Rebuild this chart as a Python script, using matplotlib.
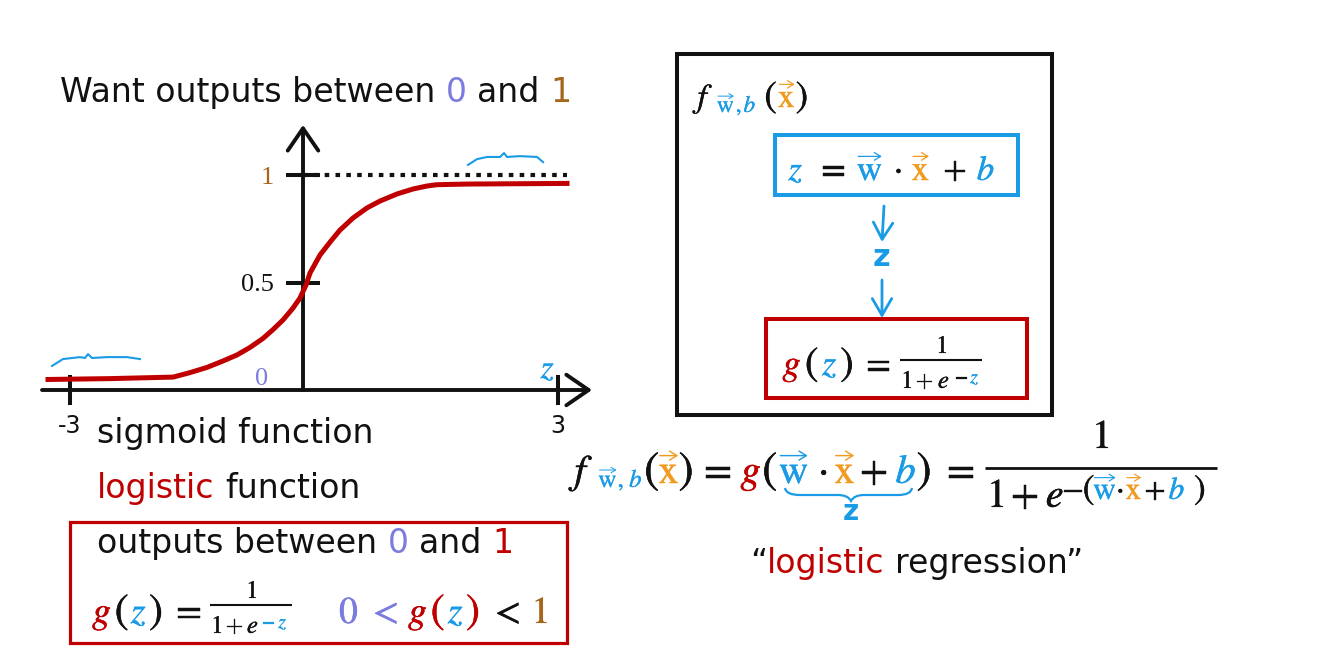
import matplotlib
matplotlib.use("Agg")
import matplotlib.pyplot as plt
import matplotlib.patheffects as pe
import numpy as np
from matplotlib.patches import Rectangle, PathPatch
from matplotlib.path import Path

W, H = 1324, 658

# sigmoid as drawn on the slide
z_curve = [-3.282, -2.484, -1.673, -1.454, -1.236, -1.030, -0.850, -0.682,
           -0.515, -0.386, -0.257, -0.129, -0.039, 0.035, 0.082, 0.200, 0.318,
           0.435, 0.588, 0.753, 0.906, 1.106, 1.294, 1.459, 1.576, 1.929, 3.106]
g_curve = [0.049, 0.053, 0.060, 0.081, 0.105, 0.135, 0.163, 0.198, 0.240,
           0.281, 0.326, 0.381, 0.428, 0.488, 0.544, 0.628, 0.688, 0.744,
           0.800, 0.847, 0.879, 0.912, 0.935, 0.949, 0.955, 0.958, 0.961]

# dotted asymptote at g = 1
asym_z = [0.0, 3.106]
asym_g = [1.0, 1.0]

x_ticks = [-3, 3]
x_tick_labels = ["-3", "3"]
y_ticks = [0.5, 1]
y_tick_labels = ["0.5", "1"]

# blue hand-drawn squiggles above the flat parts
note_low_z = [-3.230, -3.089, -2.870, -2.806, -2.767, -2.716, -2.523, -2.265, -2.098]
note_low_g = [0.112, 0.144, 0.153, 0.149, 0.167, 0.149, 0.153, 0.153, 0.144]
note_high_z = [1.941, 2.047, 2.165, 2.318, 2.365, 2.400, 2.553, 2.753, 2.824]
note_high_g = [1.047, 1.074, 1.084, 1.084, 1.102, 1.084, 1.088, 1.084, 1.060]

INK = "#111111"
RED = "#c00000"
BLUE = "#1a9be6"
ORANGE = "#f29a1d"
LAV = "#7c7cde"
BROWN = "#a5661c"

plt.rcParams["mathtext.fontset"] = "stix"
plt.rcParams["font.family"] = "DejaVu Sans"

fig = plt.figure(figsize=(W / 100, H / 100), dpi=100)
ax = fig.add_axes([0, 0, 1, 1])
ax.set_xlim(0, W)
ax.set_ylim(H, 0)
ax.axis("off")
renderer = fig.canvas.get_renderer()


def em(size):
    return size * 100 / 72


def run(x, y, parts, size):
    # sans text pieces one after another on a common baseline
    for p in parts:
        if not isinstance(p, tuple):
            x += p
            continue
        t = ax.text(x, y, p[0], color=p[1], fontsize=size, va="baseline", ha="left")
        x += t.get_window_extent(renderer).width
    return x


def place(y, items, size):
    # math glyphs centred at given x on a baseline; optional (dy px, scale)
    for it in items:
        xc, s, c = it[:3]
        dy = it[3] if len(it) > 3 else 0
        sc = it[4] if len(it) > 4 else 1
        if s in ("$($", "$)$"):
            sc *= 1.12
        fs = size * sc
        S = em(fs)
        vec = s.startswith("vec:")
        if vec:
            letter = s[4:]
            s = r"$\mathrm{%s}$" % letter
        ax.text(xc, y + dy, s, color=c, fontsize=fs, ha="center", va="baseline",
                path_effects=[pe.withStroke(linewidth=fs * 0.012, foreground=c)])
        if vec:
            half = 0.34 * S if letter == "w" else 0.23 * S
            ya = y + dy - 0.68 * S
            ax.annotate("", xy=(xc + half, ya), xytext=(xc - half, ya),
                        arrowprops=dict(arrowstyle="->,head_length=0.13,head_width=0.08",
                                        lw=max(0.7, S * 0.026), color=c,
                                        shrinkA=0, shrinkB=0, mutation_scale=S))


def bar(x0, x1, y, lw=1.5):
    ax.plot([x0, x1], [y, y], color=INK, lw=lw, solid_capstyle="butt")


WV = "vec:w"
XV = "vec:x"
SANS = 23.9
SP = 0.318 * em(SANS)

# ---------------- sigmoid plot ----------------
K = 77.7 / 85  # the slide draws the negative half a little narrower


def fwd(z):
    z = np.asarray(z, float)
    return np.where(z < 0, z * K, z)


def inv(u):
    u = np.asarray(u, float)
    return np.where(u < 0, u / K, u)


axs = fig.add_axes([40 / W, (H - 410) / H, 560 / W, 290 / H])
axs.set_xscale("function", functions=(fwd, inv))
axs.set_xlim(-3.385, 3.494)
axs.set_ylim(-0.093, 1.256)
axs.patch.set_visible(False)
for side in ["top", "right"]:
    axs.spines[side].set_visible(False)
for side in ["left", "bottom"]:
    axs.spines[side].set_position(("data", 0))
    axs.spines[side].set_visible(False)
axs.minorticks_off()

arrow = dict(arrowstyle="->,head_length=0.8,head_width=0.55", lw=2.8,
             color=INK, shrinkA=0, shrinkB=0, mutation_scale=20)
axs.annotate("", xy=(3.40, 0), xytext=(-3.359, 0), arrowprops=arrow)
axs.annotate("", xy=(0, 1.233), xytext=(0, 0), arrowprops=arrow)

axs.set_xticks(x_ticks, x_tick_labels)
axs.tick_params(axis="x", direction="inout", length=22, width=2.9, color=INK,
                pad=6, labelsize=17, labelcolor=INK)
axs.set_yticks(y_ticks, y_tick_labels)
axs.tick_params(axis="y", direction="inout", length=24.5, width=2.9, color=INK,
                pad=9, labelsize=19, labelcolor=INK,
                labelfontfamily="Liberation Serif")
axs.get_yticklabels()[1].set_color(BROWN)

axs.plot(asym_z, asym_g, color=INK, lw=3, linestyle=(0, (1.1, 1.5)))
axs.plot(z_curve, g_curve, color=RED, lw=3.6, solid_joinstyle="round", zorder=3)
axs.plot(note_low_z, note_low_g, color=BLUE, lw=1.5)
axs.plot(note_high_z, note_high_g, color=BLUE, lw=1.5)

ax.text(262, 385, "0", family="Liberation Serif", fontsize=19, color=LAV,
        ha="center", va="baseline")
place(378, [(548, r"$z$", BLUE)], 24)

# ---------------- left column text ----------------
run(60, 102, [("Want outputs between", INK), SP, ("0", LAV), SP, ("and", INK),
              SP, ("1", BROWN)], SANS)
run(97, 443, [("sigmoid function", INK)], SANS)
run(97, 498, [("logistic", RED), SP, ("function", INK)], SANS)

ax.add_patch(Rectangle((70, 522), 497, 121, lw=2.3, ec=RED, fc="none"))
run(97, 553, [("outputs between", INK), SP, ("0", LAV), SP, ("and", INK), SP,
              ("1", RED)], SANS)
place(623, [(102, r"$g$", RED), (122, r"$($", INK), (139, r"$z$", BLUE),
            (156, r"$)$", INK), (186, r"$=$", INK),
            (349, r"$0$", LAV), (383, r"$<$", LAV), (418, r"$g$", RED),
            (438, r"$($", RED), (456, r"$z$", BLUE), (473, r"$)$", RED),
            (505, r"$<$", INK), (540, r"$1$", BROWN)], 27)
bar(210, 292, 605)
place(598, [(252, r"$1$", INK)], 18)
place(633, [(217, r"$1$", INK), (235, r"$+$", INK), (253, r"$e$", INK),
            (269, r"$-$", BLUE, -5, 0.8), (283, r"$z$", BLUE, -5, 0.8)], 18)

# ---------------- right: the model box ----------------
ax.add_patch(Rectangle((677, 54), 375, 361, lw=2.9, ec=INK, fc="none"))
place(107, [(708, r"$f$", INK), (726, WV, BLUE, 5, 0.7), (739, r"$,$", BLUE, 5, 0.7),
            (750, r"$b$", BLUE, 5, 0.7), (771, r"$($", INK), (787, XV, ORANGE),
            (802, r"$)$", INK)], 24)

ax.add_patch(Rectangle((775, 135), 243, 60, lw=2.9, ec=BLUE, fc="none"))
place(180, [(796, r"$z$", BLUE), (831, r"$=$", INK), (870, WV, BLUE),
            (898, r"$\cdot$", INK), (921, XV, ORANGE), (955, r"$+$", INK),
            (986, r"$b$", BLUE)], 25)

hand = dict(arrowstyle="->,head_length=0.6,head_width=0.35", lw=2, color=BLUE,
            shrinkA=0, shrinkB=0, mutation_scale=20)
ax.annotate("", xy=(882, 242), xytext=(884, 206), arrowprops=hand)
ax.text(882, 258, "z", color=BLUE, fontsize=22, fontweight="bold",
        ha="center", va="center")
ax.annotate("", xy=(882, 318), xytext=(882, 280), arrowprops=hand)

ax.add_patch(Rectangle((766, 319), 261, 79, lw=2.9, ec=RED, fc="none"))
place(375, [(792, r"$g$", RED), (812, r"$($", INK), (830, r"$z$", BLUE),
            (847, r"$)$", INK), (876, r"$=$", INK)], 26)
bar(900, 982, 360)
place(353, [(942, r"$1$", INK)], 18)
place(388, [(907, r"$1$", INK), (925, r"$+$", INK), (944, r"$e$", INK),
            (962, r"$-$", INK, -5, 0.8), (975, r"$z$", BLUE, -5, 0.8)], 18)

# ---------------- bottom equation ----------------
place(483, [(587, r"$f$", INK), (608, WV, BLUE, 4, 0.62), (621, r"$,$", BLUE, 4, 0.62),
            (636, r"$b$", BLUE, 4, 0.62), (652, r"$($", INK),
            (669, XV, ORANGE), (686, r"$)$", INK), (715, r"$=$", INK),
            (751, r"$g$", RED), (770, r"$($", INK), (794, WV, BLUE),
            (823, r"$\cdot$", INK), (845, XV, ORANGE), (874, r"$+$", INK),
            (906, r"$b$", BLUE), (924, r"$)$", INK), (958, r"$=$", INK)], 29)
bar(985, 1217, 468, lw=2)
place(448, [(1101, r"$1$", INK)], 29)
place(507, [(996, r"$1$", INK), (1025, r"$+$", INK), (1055, r"$e$", INK),
            (1073, r"$-$", INK, -8, 0.78), (1089, r"$($", INK, -8, 0.78),
            (1105, WV, BLUE, -8, 0.78), (1120, r"$\cdot$", INK, -8, 0.78),
            (1134, XV, ORANGE, -8, 0.78), (1155, r"$+$", INK, -8, 0.78),
            (1177, r"$b$", BLUE, -8, 0.78), (1200, r"$)$", INK, -8, 0.78)], 29)

brace = Path([(785, 488), (786, 495), (800, 495), (838, 495), (848, 495),
              (851, 501), (854, 495), (864, 495), (898, 495), (911, 495),
              (912, 488)],
             [Path.MOVETO, Path.CURVE3, Path.CURVE3, Path.LINETO, Path.CURVE3,
              Path.CURVE3, Path.CURVE3, Path.CURVE3, Path.LINETO, Path.CURVE3,
              Path.CURVE3])
ax.add_patch(PathPatch(brace, ec=BLUE, fc="none", lw=1.6))
ax.text(851, 512, "z", color=BLUE, fontsize=20, fontweight="bold",
        ha="center", va="center")

run(750, 573, [("\u201c", INK), ("logistic", RED), SP, ("regression\u201d", INK)],
    SANS)

fig.savefig("out.png", dpi=100)
